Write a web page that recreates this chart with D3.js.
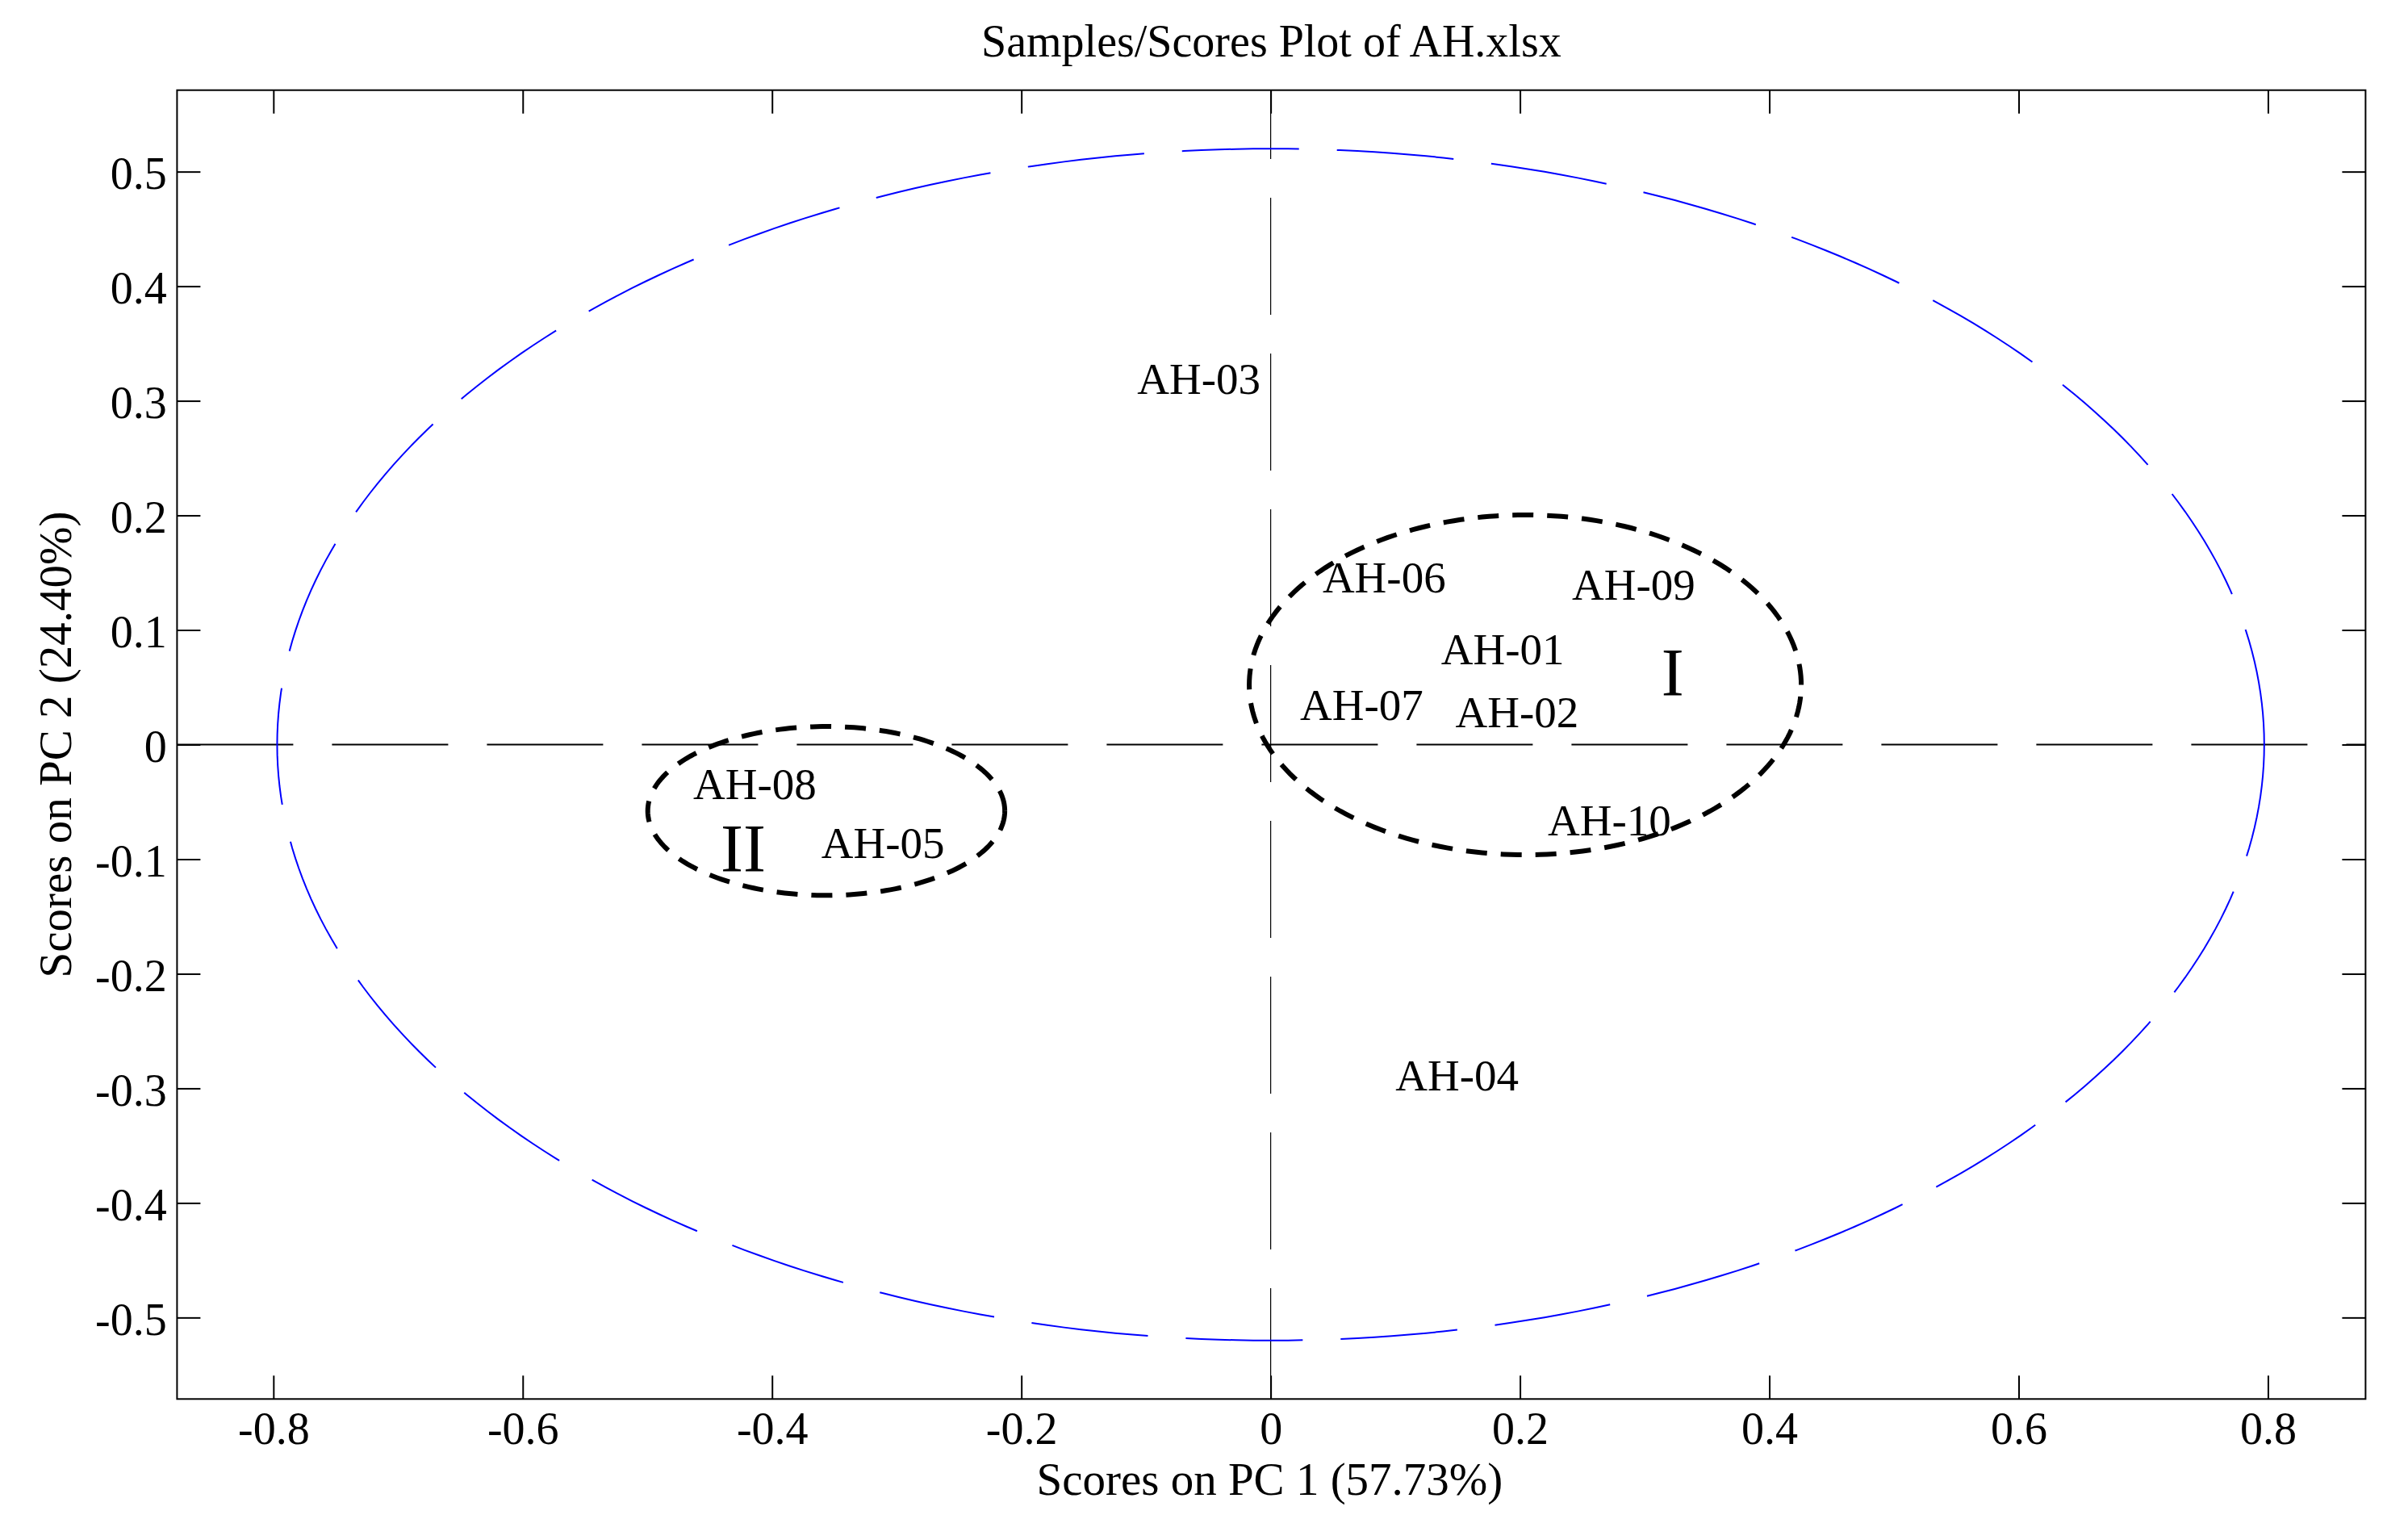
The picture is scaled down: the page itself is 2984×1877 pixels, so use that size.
<!DOCTYPE html>
<html>
<head>
<meta charset="utf-8">
<script src="https://cdn.jsdelivr.net/npm/d3@7/dist/d3.min.js"></script>
<style>
  html, body { margin: 0; padding: 0; background: #fff; }
  svg { display: block; }
</style>
</head>
<body>
<script>
// ---------- data ----------
const sampleNames = ["AH-01","AH-02","AH-03","AH-04","AH-05","AH-06","AH-07","AH-08","AH-09","AH-10"];
const pc1Scores   = [0.1367, 0.1482, -0.1070, 0.1001, -0.3605, 0.0416, 0.0236, -0.4632, 0.2417, 0.2223];
const pc2Scores   = [0.0835, 0.0282, 0.3191, -0.2888, -0.0856, 0.1458, 0.0349, -0.0345, 0.1398, -0.0659];

const groupNames = ["I", "II"];
const groupLabelX = [0.3224, -0.4231];
const groupLabelY = [0.0619, -0.0915];
const groupCx = [0.2042, -0.3565];
const groupCy = [0.0521, -0.0579];
const groupRx = [0.2214, 0.1432];
const groupRy = [0.1483, 0.0737];

const limitCx = 0, limitCy = 0, limitRx = 0.797, limitRy = 0.52;

const xTickValues = [-0.8, -0.6, -0.4, -0.2, 0, 0.2, 0.4, 0.6, 0.8];
const xTickLabels = ["-0.8", "-0.6", "-0.4", "-0.2", "0", "0.2", "0.4", "0.6", "0.8"];
const yTickValues = [-0.5, -0.4, -0.3, -0.2, -0.1, 0, 0.1, 0.2, 0.3, 0.4, 0.5];
const yTickLabels = ["-0.5", "-0.4", "-0.3", "-0.2", "-0.1", "0", "0.1", "0.2", "0.3", "0.4", "0.5"];
const xDomain = [-0.8773, 0.8783];
const yDomain = [-0.5711, 0.5711];

const titleText = "Samples/Scores Plot of AH.xlsx";
const xLabelText = "Scores on PC 1 (57.73%)";
const yLabelText = "Scores on PC 2 (24.40%)";

// ---------- layout ----------
const W = 2984, H = 1877;
const L = 219.4, R = 2931.4, T = 111.7, B = 1733.3;
const FONT = "'Liberation Serif', 'Times New Roman', Times, serif";

const svg = d3.select("body").append("svg").attr("width", W).attr("height", H)
  .style("font-family", FONT);
svg.append("rect").attr("width", W).attr("height", H).attr("fill", "#fff");

const x = d3.scaleLinear().domain(xDomain).range([L, R]);
const y = d3.scaleLinear().domain(yDomain).range([B, T]);

svg.append("clipPath").attr("id", "plotclip")
  .append("rect").attr("x", L).attr("y", T).attr("width", R - L).attr("height", B - T);
const plot = svg.append("g").attr("clip-path", "url(#plotclip)");

// zero lines
plot.append("line")
  .attr("x1", x(xDomain[0])).attr("x2", x(xDomain[1]))
  .attr("y1", y(0)).attr("y2", y(0))
  .attr("stroke", "#000").attr("stroke-width", 2)
  .attr("stroke-dasharray", "144,48");
plot.append("line")
  .attr("x1", x(0)).attr("x2", x(0))
  .attr("y1", y(yDomain[1])).attr("y2", y(yDomain[0]))
  .attr("stroke", "#000").attr("stroke-width", 1.2)
  .attr("stroke-dasharray", "145,48").attr("stroke-dashoffset", 59.7);

// ellipse helper
function ellipsePts(cx, cy, rx, ry, n) {
  return d3.range(n + 1).map(i => {
    const t = 2 * Math.PI * i / n;
    return [cx + rx * Math.cos(t), cy + ry * Math.sin(t)];
  });
}
const line = d3.line().x(d => x(d[0])).y(d => y(d[1]));

// confidence limit ellipse (blue)
plot.append("path")
  .attr("d", line(ellipsePts(limitCx, limitCy, limitRx, limitRy, 360)))
  .attr("fill", "none").attr("stroke", "#0000ff").attr("stroke-width", 2)
  .attr("stroke-dasharray", "145,47");

// group ellipses
groupNames.forEach((g, i) => {
  plot.append("path")
    .attr("d", line(ellipsePts(groupCx[i], groupCy[i], groupRx[i], groupRy[i], 240)))
    .attr("fill", "none").attr("stroke", "#000").attr("stroke-width", 6)
    .attr("stroke-dasharray", "26,17");
});

// sample labels
plot.selectAll("text.sample").data(sampleNames).join("text")
  .attr("class", "sample")
  .attr("x", (d, i) => x(pc1Scores[i]))
  .attr("y", (d, i) => y(pc2Scores[i]))
  .attr("dy", "0.34em")
  .attr("font-size", 55)
  .attr("fill", "#000")
  .text(d => d);

// group labels
plot.selectAll("text.group").data(groupNames).join("text")
  .attr("class", "group")
  .attr("x", (d, i) => x(groupLabelX[i]))
  .attr("y", (d, i) => y(groupLabelY[i]))
  .attr("dy", "0.33em")
  .attr("text-anchor", "middle")
  .attr("font-size", 84)
  .attr("fill", "#000")
  .text(d => d);

// axes
const TICK = 29;
function styleAxis(g) {
  g.select(".domain").remove();
  g.selectAll(".tick line").attr("stroke", "#000").attr("stroke-width", 2);
  g.selectAll(".tick text").attr("fill", "#000");
  g.attr("font-family", FONT).attr("font-size", 56);
}
const xLab = d3.scaleOrdinal().domain(xTickValues).range(xTickLabels);
const yLab = d3.scaleOrdinal().domain(yTickValues).range(yTickLabels);

svg.append("g").attr("transform", `translate(0,${B})`)
  .call(d3.axisBottom(x).tickValues(xTickValues).tickFormat(d => xLab(d))
        .tickSizeInner(-TICK).tickSizeOuter(0).tickPadding(16))
  .call(styleAxis);
svg.append("g").attr("transform", `translate(0,${T})`)
  .call(d3.axisTop(x).tickValues(xTickValues).tickFormat("")
        .tickSizeInner(-TICK).tickSizeOuter(0))
  .call(styleAxis);
const gl = svg.append("g").attr("transform", `translate(${L},0)`)
  .call(d3.axisLeft(y).tickValues(yTickValues).tickFormat(d => yLab(d))
        .tickSizeInner(-TICK).tickSizeOuter(0).tickPadding(12.7))
  .call(styleAxis);
gl.selectAll(".tick text").attr("dy", "0.37em");
svg.append("g").attr("transform", `translate(${R},0)`)
  .call(d3.axisRight(y).tickValues(yTickValues).tickFormat("")
        .tickSizeInner(-TICK).tickSizeOuter(0))
  .call(styleAxis);

// box
svg.append("rect").attr("x", L).attr("y", T).attr("width", R - L).attr("height", B - T)
  .attr("fill", "none").attr("stroke", "#000").attr("stroke-width", 2);

// title and axis labels
svg.append("text").attr("x", (L + R) / 2).attr("y", 70)
  .attr("text-anchor", "middle").attr("font-size", 56).attr("fill", "#000")
  .text(titleText);
svg.append("text").attr("x", (L + R) / 2 - 2).attr("y", 1852)
  .attr("text-anchor", "middle").attr("font-size", 57).attr("fill", "#000")
  .text(xLabelText);
svg.append("text")
  .attr("transform", `translate(88,${(T + B) / 2}) rotate(-90)`)
  .attr("text-anchor", "middle").attr("font-size", 57).attr("fill", "#000")
  .text(yLabelText);
</script>
</body>
</html>
